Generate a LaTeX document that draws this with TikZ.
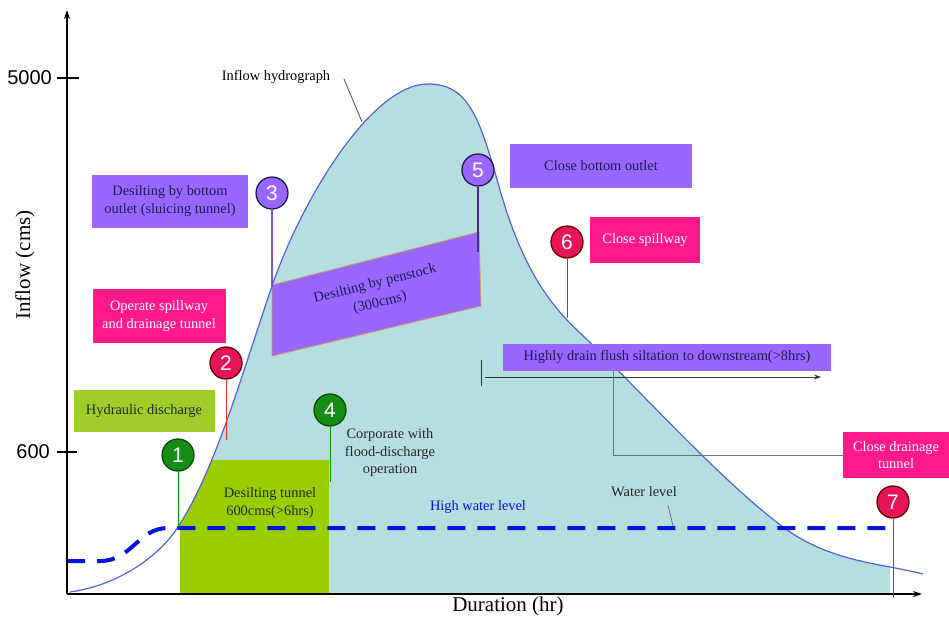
\documentclass[tikz,border=0pt]{standalone}
\usepackage{fontspec}
\setmainfont{Liberation Serif}
\newfontfamily\numfont{Liberation Sans}
\usetikzlibrary{arrows.meta}
\definecolor{fillc}{RGB}{182,221,223}
\definecolor{curvec}{RGB}{80,100,215}
\definecolor{purp}{RGB}{153,102,255}
\definecolor{pinkc}{RGB}{255,25,140}
\definecolor{crim}{RGB}{232,20,88}
\definecolor{grnc}{RGB}{22,140,22}
\definecolor{ygrn}{RGB}{154,205,0}
\definecolor{ygrnl}{RGB}{160,206,40}
\definecolor{dashc}{RGB}{0,20,225}
\definecolor{navy}{RGB}{30,25,80}
\definecolor{tan}{RGB}{200,160,110}
\begin{document}
\begin{tikzpicture}[x=1pt,y=-1pt,
  lbl/.style={font=\fontsize{14.4}{17.5}\selectfont, align=center, inner sep=0pt},
  pbox/.style={lbl, fill=purp, text=navy},
  kbox/.style={lbl, fill=pinkc, text=white},
  gbox/.style={lbl, fill=ygrnl, text=black!85},
  circ/.style={circle, minimum size=32pt, inner sep=0pt, line width=1.3pt, text=white, font=\numfont\fontsize{21}{21}\selectfont},
  axis/.style={line width=1.1pt, -{Stealth[length=9pt,width=6pt]}},
]
\useasboundingbox (0,0) rectangle (949,619);
\def\hydro{(70,592) .. controls (120,585) and (160,555) .. (178,527)
  .. controls (215,470) and (240,380) .. (272,286)
  .. controls (300,204) and (370,84) .. (428,84)
  .. controls (470,84) and (480,120) .. (500,190)
  .. controls (520,260) and (545,300) .. (577,330)
  .. controls (640,390) and (720,480) .. (783,527)
  .. controls (830,562) and (880,563) .. (923,574)}
% fill under curve
\begin{scope}
  \clip (180,0) rectangle (890,594);
  \fill[fillc] \hydro -- (923,594) -- (70,594) -- cycle;
\end{scope}
% green block clipped by curve
\begin{scope}
  \clip \hydro -- (923,594) -- (70,594) -- cycle;
  \fill[ygrn] (180,460) rectangle (329,594);
\end{scope}
% penstock parallelogram
\filldraw[fill=purp, draw=tan, line width=0.9pt] (272,285) -- (479,232) -- (481,306) -- (272,356) -- cycle;
\node[lbl, text=navy, rotate=14] (pen1) at (375,284) {Desilting by penstock};
\node[lbl, text=navy, rotate=14] (pen2) at (380,303) {(300cms)};
% curve
\draw[curvec, line width=1.2pt] \hydro;
% dashed water level
\draw[dashc, line width=4pt, dash pattern=on 18pt off 12pt] (67,561) -- (100,561) .. controls (132,561) and (138,528) .. (168,528) -- (893,528);
% axes
\coordinate (o) at (67,594);
\coordinate (ytop) at (67,10);
\coordinate (xend) at (922,594);
\draw[axis] (o) -- (ytop);
\draw[axis] (o) -- (xend);
\coordinate (t5a) at (57,78); \coordinate (t5b) at (79,78);
\coordinate (t6a) at (57,452); \coordinate (t6b) at (77,452);
\draw[line width=1.1pt] (t5a) -- (t5b);
\draw[line width=1.1pt] (t6a) -- (t6b);
\node[font=\numfont\fontsize{20}{20}\selectfont, anchor=east, inner sep=0pt] (n5000) at (52,78) {5000};
\node[font=\numfont\fontsize{20}{20}\selectfont, anchor=east, inner sep=0pt] (n600) at (50,452) {600};
\node[font=\fontsize{21}{21}\selectfont, rotate=90, inner sep=0pt] (ylab) at (25,265) {Inflow (cms)};
\node[font=\fontsize{21}{21}\selectfont, inner sep=0pt] (xlab) at (508,606) {Duration (hr)};
% text labels
\node[lbl] (ih) at (276,77) {Inflow hydrograph};
\coordinate (ih1) at (344,79); \coordinate (ih2) at (362,122);
\draw[black!70, line width=0.8pt] (ih1) -- (ih2);
\node[lbl, text=black!85] (corp) at (390,453) {Corporate with\\flood-discharge\\operation};
\node[lbl, text=black!85] (dt) at (270,503) {Desilting tunnel\\600cms(>6hrs)};
\node[lbl, text=dashc] (hwl) at (478,507) {High water level};
\node[lbl, text=black!85] (wl) at (644,492) {Water level};
\coordinate (wl1) at (668,505); \coordinate (wl2) at (673,526);
\draw[black!60, line width=0.7pt] (wl1) -- (wl2);
% boxes
\node[pbox, minimum width=156pt, minimum height=53pt] (b3) at (170,201) {Desilting by bottom\\outlet (sluicing tunnel)};
\node[pbox, minimum width=182pt, minimum height=44pt] (b5) at (601,166) {Close bottom outlet};
\node[kbox, minimum width=110pt, minimum height=46pt] (b6) at (645,240) {Close spillway};
\node[kbox, minimum width=133pt, minimum height=54pt] (b2) at (159,316) {Operate spillway\\and drainage tunnel};
\node[gbox, minimum width=141pt, minimum height=42pt] (b1) at (144,411) {Hydraulic discharge};
\node[pbox, minimum width=328pt, minimum height=27pt] (bh) at (667,357) {Highly drain flush siltation to downstream(>8hrs)};
\node[kbox, minimum width=106pt, minimum height=46pt] (b7) at (896,455) {Close drainage\\tunnel};
% flush arrow and connector
\coordinate (fa1) at (485,377); \coordinate (fa2) at (821,377);
\coordinate (ft1) at (481,360); \coordinate (ft2) at (481,386);
\draw[black!80, line width=0.9pt, -{Stealth[length=7pt,width=5pt]}] (fa1) -- (fa2);
\draw[black!80, line width=0.9pt] (ft1) -- (ft2);
\coordinate (g1) at (613,370);
\draw[black!55, line width=0.8pt] (b7.west) -| (g1);
% circles with stems
\coordinate (s1) at (178,527);
\coordinate (s2) at (226,440);
\coordinate (s3) at (272,287);
\coordinate (s4) at (330,482);
\coordinate (s5) at (478,252);
\coordinate (s6) at (567,318);
\coordinate (s7) at (893,598);
\node[circ, fill=grnc, draw=green!30!black] (c1) at (178,455) {1};
\node[circ, fill=crim, draw=red!40!black] (c2) at (226,363) {2};
\node[circ, fill=purp, draw=navy] (c3) at (272,193) {3};
\node[circ, fill=grnc, draw=green!30!black] (c4) at (330,410) {4};
\node[circ, fill=purp, draw=navy] (c5) at (478,170) {5};
\node[circ, fill=crim, draw=red!40!black] (c6) at (567,242) {6};
\node[circ, fill=crim, draw=red!40!black] (c7) at (893,502) {7};
\draw[green!60!black, line width=1pt] (c1) -- (s1);
\draw[red!85!white, line width=1pt] (c2) -- (s2);
\draw[purp!80!black, line width=1.2pt] (c3) -- (s3);
\draw[green!60!black, line width=1pt] (c4) -- (s4);
\draw[navy!70!purp, line width=1.2pt] (c5) -- (s5);
\draw[pinkc!85!black, line width=1pt] (c6) -- (s6);
\draw[pinkc!85!black, line width=1pt] (c7) -- (s7);
\end{tikzpicture}
\end{document}
